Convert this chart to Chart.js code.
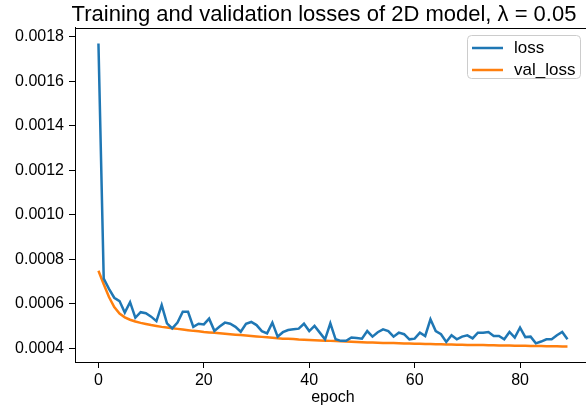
<!DOCTYPE html>
<html>
<head>
<meta charset="utf-8">
<script src="https://cdn.jsdelivr.net/npm/chart.js@4.4.0/dist/chart.umd.min.js"></script>
<style>
html,body{margin:0;padding:0;background:#fff;overflow:hidden;}
#wrap{width:648px;height:412px;position:relative;}
</style>
</head>
<body>
<div id="wrap"><canvas id="c" width="648" height="412"></canvas></div>
<script>
const titleText = "Training and validation losses of 2D model, \u03bb = 0.05";
const xTicks = [0, 20, 40, 60, 80];
const yTicks = [0.0004, 0.0006, 0.0008, 0.0010, 0.0012, 0.0014, 0.0016, 0.0018];
const seriesNames = ["loss", "val_loss"];
const loss = [
  0.00177, 0.000713, 0.000667, 0.000627, 0.000612, 0.00056, 0.000607, 0.000537, 0.000562, 0.000557,
  0.000542, 0.000522, 0.000594, 0.000512, 0.000489, 0.000515, 0.000564, 0.000564, 0.000496, 0.00051,
  0.000507, 0.000533, 0.000478, 0.000498, 0.000515, 0.00051, 0.000496, 0.000474, 0.00051, 0.000518,
  0.000504, 0.000477, 0.000467, 0.000515, 0.000452, 0.000472, 0.000482, 0.000485, 0.000488, 0.00051,
  0.000477, 0.0005, 0.00047, 0.00044, 0.000512, 0.00044, 0.000433, 0.000433, 0.000448, 0.000446,
  0.000443, 0.000477, 0.000452, 0.000472, 0.000485, 0.000477, 0.000452, 0.00047, 0.000463, 0.00044,
  0.000443, 0.00047, 0.000455, 0.00053, 0.000477, 0.000463, 0.000428, 0.000458, 0.00044, 0.000452,
  0.000458, 0.000444, 0.00047, 0.00047, 0.000473, 0.000455, 0.000455, 0.00044, 0.000473, 0.000448,
  0.000493, 0.00045, 0.000452, 0.000422, 0.00043, 0.00044, 0.00044, 0.000458, 0.000473, 0.00044
];
const valLoss = [
  0.000748, 0.000688, 0.000630, 0.000585, 0.000556, 0.000539, 0.000528, 0.000520, 0.000514, 0.000509,
  0.000504, 0.000500, 0.000496, 0.000493, 0.000490, 0.000487, 0.000484, 0.000481, 0.000478, 0.000476,
  0.000473, 0.000471, 0.000469, 0.000467, 0.000465, 0.000463, 0.000461, 0.000459, 0.000457, 0.000455,
  0.000453, 0.000451, 0.000449, 0.000447, 0.000445, 0.000443, 0.000442, 0.000441, 0.000439, 0.000438,
  0.000437, 0.000436, 0.000435, 0.000434, 0.000433, 0.000432, 0.000431, 0.000430, 0.000429, 0.000428,
  0.000427, 0.000426, 0.000426, 0.000425, 0.000424, 0.000423, 0.000423, 0.000422, 0.000421, 0.000421,
  0.000420, 0.000420, 0.000419, 0.000419, 0.000418, 0.000418, 0.000417, 0.000417, 0.000416, 0.000416,
  0.000415, 0.000415, 0.000414, 0.000414, 0.000413, 0.000413, 0.000412, 0.000412, 0.000412, 0.000411,
  0.000411, 0.000411, 0.000410, 0.000410, 0.000410, 0.000409, 0.000409, 0.000409, 0.000408, 0.000408
];
const colors = ["#1f77b4", "#ff7f0e"];

const FONT = "'Liberation Sans', Arial, Helvetica, sans-serif";

const toPts = arr => arr.map((v, i) => ({x: i, y: v}));

const frame = {
  id: 'frame',
  afterDatasetsDraw(chart) {
    const a = chart.chartArea, ctx = chart.ctx;
    ctx.save();
    ctx.strokeStyle = '#000';
    ctx.lineWidth = 1;
    ctx.strokeRect(Math.round(a.left) + 0.5, Math.round(a.top) + 0.5, Math.round(a.right - a.left), Math.round(a.bottom - a.top));
    ctx.restore();
  },
  afterDraw(chart) {
    const ctx = chart.ctx;
    const bx = 467.5, by = 35.5, bw = 113, bh = 43, r = 4;
    ctx.save();
    ctx.fillStyle = 'rgba(255,255,255,0.8)';
    ctx.strokeStyle = '#cccccc';
    ctx.lineWidth = 1;
    ctx.beginPath();
    ctx.moveTo(bx + r, by);
    ctx.lineTo(bx + bw - r, by); ctx.arcTo(bx + bw, by, bx + bw, by + r, r);
    ctx.lineTo(bx + bw, by + bh - r); ctx.arcTo(bx + bw, by + bh, bx + bw - r, by + bh, r);
    ctx.lineTo(bx + r, by + bh); ctx.arcTo(bx, by + bh, bx, by + bh - r, r);
    ctx.lineTo(bx, by + r); ctx.arcTo(bx, by, bx + r, by, r);
    ctx.closePath();
    ctx.fill(); ctx.stroke();
    const ds = chart.data.datasets;
    ds.forEach((d, i) => {
      const yy = 48 + i * 22;
      ctx.strokeStyle = d.borderColor;
      ctx.lineWidth = 2.5;
      ctx.beginPath(); ctx.moveTo(472, yy); ctx.lineTo(503, yy); ctx.stroke();
      ctx.fillStyle = '#000';
      ctx.font = '17px ' + FONT;
      ctx.textBaseline = 'middle';
      ctx.textAlign = 'left';
      ctx.fillText(d.label, 514, yy);
    });
    ctx.restore();
  }
};

new Chart(document.getElementById('c'), {
  type: 'line',
  data: {
    datasets: [
      {label: seriesNames[0], data: toPts(loss), borderColor: colors[0], backgroundColor: colors[0], borderWidth: 2.5, pointRadius: 0, tension: 0, fill: false},
      {label: seriesNames[1], data: toPts(valLoss), borderColor: colors[1], backgroundColor: colors[1], borderWidth: 2.5, pointRadius: 0, tension: 0, fill: false}
    ]
  },
  options: {
    responsive: false,
    animation: false,
    layout: {padding: {left: 0, right: 0, top: 0, bottom: 0}},
    plugins: {
      legend: {display: false},
      tooltip: {enabled: false},
      title: {
        display: true,
        text: titleText,
        fullSize: true,
        color: '#000',
        font: {family: FONT, size: 22, weight: 'normal', lineHeight: 1.15},
        padding: {top: 2, bottom: 0.7}
      }
    },
    scales: {
      x: {
        type: 'linear',
        min: -4.45,
        max: 104.28,
        afterBuildTicks: s => { s.ticks = xTicks.map(v => ({value: v})); },
        afterFit: s => { s.height = 50; },
        ticks: {color: '#000', font: {family: FONT, size: 16}, padding: 3, maxRotation: 0, autoSkip: false},
        grid: {display: true, drawOnChartArea: false, drawTicks: true, tickLength: 6, color: '#000', tickWidth: 1},
        border: {display: true, color: '#000', width: 1},
        title: {display: false}
      },
      y: {
        type: 'linear',
        min: 0.000338,
        max: 0.00184,
        afterBuildTicks: s => { s.ticks = yTicks.map(v => ({value: v})); },
        afterFit: s => { s.width = 75; },
        ticks: {color: '#000', font: {family: FONT, size: 16}, padding: 5, autoSkip: false,
          callback: v => v.toFixed(4)},
        grid: {display: true, drawOnChartArea: false, drawTicks: true, tickLength: 6, color: '#000', tickWidth: 1},
        border: {display: true, color: '#000', width: 1}
      }
    }
  },
  plugins: [frame, {
    id: 'xlabel',
    afterDraw(chart) {
      const ctx = chart.ctx, a = chart.chartArea;
      const xs = chart.scales.x;
      const cx = xs.getPixelForValue(44.5);
      ctx.save();
      ctx.fillStyle = '#000';
      ctx.font = '16px ' + FONT;
      ctx.textAlign = 'center';
      ctx.textBaseline = 'middle';
      ctx.fillText('epoch', cx, 398);
      ctx.restore();
    }
  }]
});
</script>
</body>
</html>
